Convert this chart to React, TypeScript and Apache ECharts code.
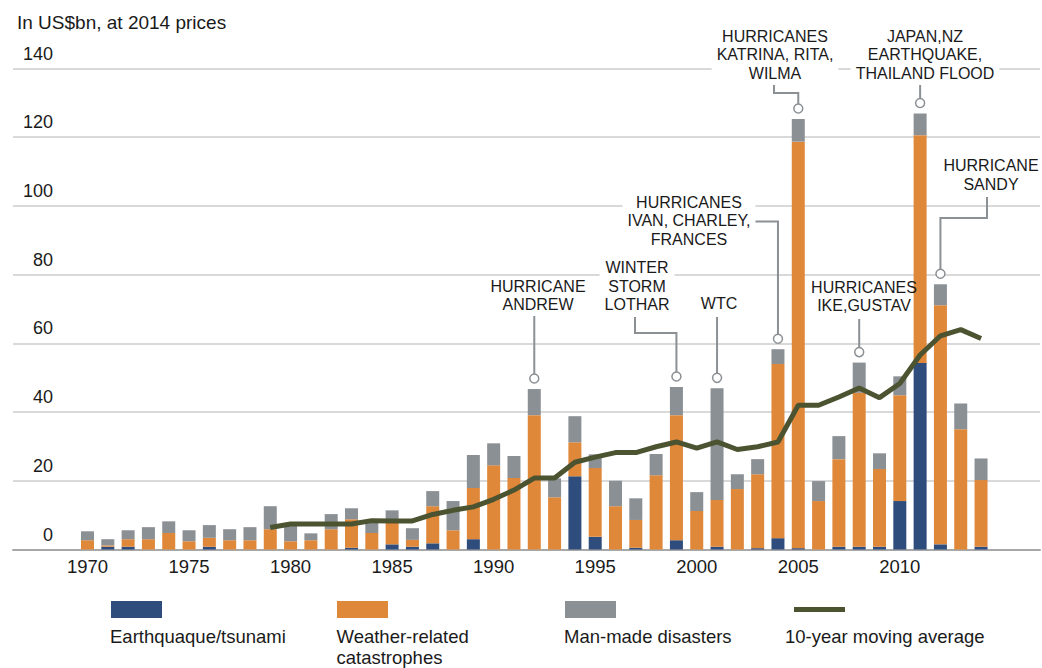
import React, { useEffect, useRef } from "react";
import * as echarts from "echarts";

const FONT = '"Liberation Sans", Arial, Helvetica, sans-serif';
const TEXT = "#1a1a1a";
const C_EQ = "#2e4d7c";
const C_WX = "#e0883a";
const C_MM = "#8b9095";
const C_MA = "#4b5331";
const C_LEAD = "#8b9095";

const years: string[] = [
  "1970","1971","1972","1973","1974","1975","1976","1977","1978","1979",
  "1980","1981","1982","1983","1984","1985","1986","1987","1988","1989",
  "1990","1991","1992","1993","1994","1995","1996","1997","1998","1999",
  "2000","2001","2002","2003","2004","2005","2006","2007","2008","2009",
  "2010","2011","2012","2013","2014",
];

const earthquake: number[] = [
  0, 0.8, 0.8, 0, 0, 0, 0.8, 0, 0, 0,
  0, 0, 0, 0.5, 0, 1.5, 0.8, 1.8, 0, 3.0,
  0, 0, 0, 0, 21.3, 3.7, 0, 0.5, 0, 2.7,
  0, 0.8, 0, 0.4, 3.3, 0.4, 0, 0.8, 0.8, 0.8,
  14.1, 54.3, 1.5, 0, 0.8,
];

const weather: number[] = [
  2.7, 0.4, 2.2, 3.0, 4.8, 2.4, 2.6, 2.7, 2.7, 5.9,
  2.4, 2.7, 5.9, 8.3, 4.8, 6.8, 2.0, 10.8, 5.6, 14.9,
  24.5, 20.8, 39.1, 15.2, 9.9, 20.0, 12.6, 8.1, 21.6, 36.4,
  11.2, 13.6, 17.6, 21.5, 50.7, 118.3, 14.1, 25.5, 44.8, 22.6,
  30.8, 66.3, 69.6, 35.0, 19.4,
];

const manMade: number[] = [
  2.6, 1.8, 2.6, 3.5, 3.4, 3.2, 3.7, 3.2, 3.8, 6.7,
  4.6, 2.0, 4.4, 3.2, 3.7, 3.1, 3.4, 4.4, 8.5, 9.6,
  6.4, 6.4, 7.6, 5.5, 7.6, 4.0, 7.4, 6.3, 6.2, 8.2,
  5.5, 32.5, 4.3, 4.4, 4.3, 6.6, 5.8, 6.7, 8.8, 4.6,
  5.5, 6.3, 6.1, 7.5, 6.3,
];

const movingAverage: (number | null)[] = [
  null, null, null, null, null, null, null, null, null, 6.4,
  7.4, 7.4, 7.4, 7.4, 8.4, 8.3, 8.3, 10.2, 11.4, 12.4,
  14.6, 17.3, 20.8, 20.8, 25.4, 26.9, 28.2, 28.2, 29.9, 31.3,
  29.5, 31.3, 29.1, 29.9, 31.3, 42.0, 42.0, 44.4, 47.0, 44.2,
  48.3, 56.6, 62.2, 64.0, 61.4,
];

const yTicks = { min: 0, max: 140, interval: 20 };

const seriesNames = [
  "Earthquaque/tsunami",
  "Weather-related\ncatastrophes",
  "Man-made disasters",
  "10-year moving average",
];

const titleText = "In US$bn, at 2014 prices";

// annotation texts and their layout (text centre / first-line centre, leader start)
const annotations = [
  { year: "1992", lines: ["HURRICANE", "ANDREW"], tx: 538, ty: 286, bg: false, start: [535, 316], elbowY: null as number | null },
  { year: "1999", lines: ["WINTER", "STORM", "LOTHAR"], tx: 637, ty: 267.5, bg: true, start: [635, 317], elbowY: 333 },
  { year: "2001", lines: ["WTC"], tx: 719, ty: 303, bg: false, start: [718, 317], elbowY: null },
  { year: "2004", lines: ["HURRICANES", "IVAN, CHARLEY,", "FRANCES"], tx: 689, ty: 202, bg: true, start: [749, 221.5], elbowY: 221.5 },
  { year: "2005", lines: ["HURRICANES", "KATRINA, RITA,", "WILMA"], tx: 775, ty: 36, bg: true, start: [774, 85], elbowY: 93 },
  { year: "2008", lines: ["HURRICANES", "IKE,GUSTAV"], tx: 864, ty: 287, bg: false, start: [860, 319], elbowY: null },
  { year: "2011", lines: ["JAPAN,NZ", "EARTHQUAKE,", "THAILAND FLOOD"], tx: 925, ty: 36, bg: true, start: [921, 85], elbowY: null },
  { year: "2012", lines: ["HURRICANE", "SANDY"], tx: 991, ty: 165.5, bg: false, start: [987, 197], elbowY: 218 },
];

export default function App() {
  const ref = useRef<HTMLDivElement>(null);

  useEffect(() => {
    document.body.style.margin = "0";
    if (!ref.current) return;
    const chart = echarts.init(ref.current, null, { renderer: "svg" });

    const barBase = {
      type: "bar" as const,
      xAxisIndex: 1,
      yAxisIndex: 1,
      stack: "total",
      barWidth: 13,
    };

    chart.setOption({
      animation: false,
      backgroundColor: "#ffffff",
      title: {
        text: titleText,
        left: 12,
        top: 8,
        textStyle: { fontSize: 19, fontWeight: "normal", color: TEXT, fontFamily: FONT },
      },
      grid: [
        { left: 13, right: 2, top: 68.5, bottom: 118.5 },
        { left: 77.35, right: 50.8, top: 68.5, bottom: 118.5 },
      ],
      xAxis: [
        {
          type: "value",
          gridIndex: 0,
          min: 0,
          max: 1,
          axisLine: { show: true, lineStyle: { color: "#a8a8a8", width: 2 } },
          axisTick: { show: false },
          axisLabel: { show: false },
          splitLine: { show: false },
        },
        {
          type: "category",
          gridIndex: 1,
          data: years,
          axisLine: { show: false },
          axisTick: { show: false },
          axisLabel: {
            interval: 4,
            fontSize: 18.5,
            color: TEXT,
            fontFamily: FONT,
            margin: 7,
          },
        },
      ],
      yAxis: [
        {
          type: "value",
          gridIndex: 0,
          min: yTicks.min,
          max: yTicks.max,
          interval: yTicks.interval,
          axisLine: { show: false },
          axisTick: { show: false },
          splitLine: { show: true, lineStyle: { color: "#d9d9d9", width: 2 } },
          axisLabel: {
            inside: true,
            align: "right",
            margin: 40,
            verticalAlign: "bottom",
            lineHeight: 30,
            fontSize: 18,
            color: TEXT,
            fontFamily: FONT,
          },
        },
        {
          type: "value",
          gridIndex: 1,
          min: yTicks.min,
          max: yTicks.max,
          interval: yTicks.interval,
          show: false,
          splitLine: { show: false },
        },
      ],
      series: [
        { ...barBase, name: seriesNames[0], data: earthquake, itemStyle: { color: C_EQ } },
        { ...barBase, name: seriesNames[1], data: weather, itemStyle: { color: C_WX } },
        { ...barBase, name: seriesNames[2], data: manMade, itemStyle: { color: C_MM } },
        {
          type: "line",
          name: seriesNames[3],
          xAxisIndex: 1,
          yAxisIndex: 1,
          data: movingAverage,
          symbol: "none",
          showSymbol: false,
          connectNulls: false,
          lineStyle: { color: C_MA, width: 5 },
          z: 5,
        },
      ],
    });

    const graphics: any[] = [];
    const R = 4.5;
    annotations.forEach((a) => {
      const i = years.indexOf(a.year);
      const total = earthquake[i] + weather[i] + manMade[i];
      const p = chart.convertToPixel({ gridIndex: 1 }, [a.year, total]) as number[];
      const cx = p[0];
      const cy = p[1] - 10.5;
      const top = cy - R;
      let pts: number[][];
      if (a.elbowY != null) {
        pts = [a.start, [a.start[0], a.elbowY], [cx, a.elbowY], [cx, top]];
      } else {
        pts = [[cx, a.start[1]], [cx, top]];
      }
      graphics.push({
        type: "polyline",
        z: 100,
        shape: { points: pts },
        style: { stroke: C_LEAD, lineWidth: 2, fill: null },
      });
      graphics.push({
        type: "circle",
        z: 101,
        shape: { cx, cy, r: R },
        style: { fill: "#ffffff", stroke: C_LEAD, lineWidth: 1.5 },
      });
      graphics.push({
        type: "text",
        z: 102,
        x: a.tx,
        y: a.ty - 9.25,
        style: {
          text: a.lines.join("\n"),
          align: "center",
          verticalAlign: "top",
          fontSize: 16,
          lineHeight: 18.5,
          fontFamily: FONT,
          fill: TEXT,
          backgroundColor: a.bg ? "#ffffff" : "transparent",
          padding: a.bg ? [0, 5, 0, 5] : 0,
        },
      });
    });

    // legend
    const swatchX = [111, 337, 565, 794];
    const legendTextX = [110, 336.5, 564, 785];
    const legendColors = [C_EQ, C_WX, C_MM];
    legendColors.forEach((c, k) => {
      graphics.push({
        type: "rect",
        shape: { x: swatchX[k], y: 601, width: 51, height: 17 },
        style: { fill: c },
      });
    });
    graphics.push({
      type: "line",
      shape: { x1: swatchX[3], y1: 609.5, x2: swatchX[3] + 51, y2: 609.5 },
      style: { stroke: C_MA, lineWidth: 5 },
    });
    seriesNames.forEach((n, k) => {
      graphics.push({
        type: "text",
        x: legendTextX[k],
        y: 626,
        style: {
          text: n,
          align: "left",
          verticalAlign: "top",
          fontSize: 18.5,
          lineHeight: 21,
          fontFamily: FONT,
          fill: TEXT,
        },
      });
    });

    chart.setOption({ graphic: graphics });

    return () => {
      chart.dispose();
    };
  }, []);

  return <div ref={ref} style={{ width: 1042, height: 668 }} />;
}
